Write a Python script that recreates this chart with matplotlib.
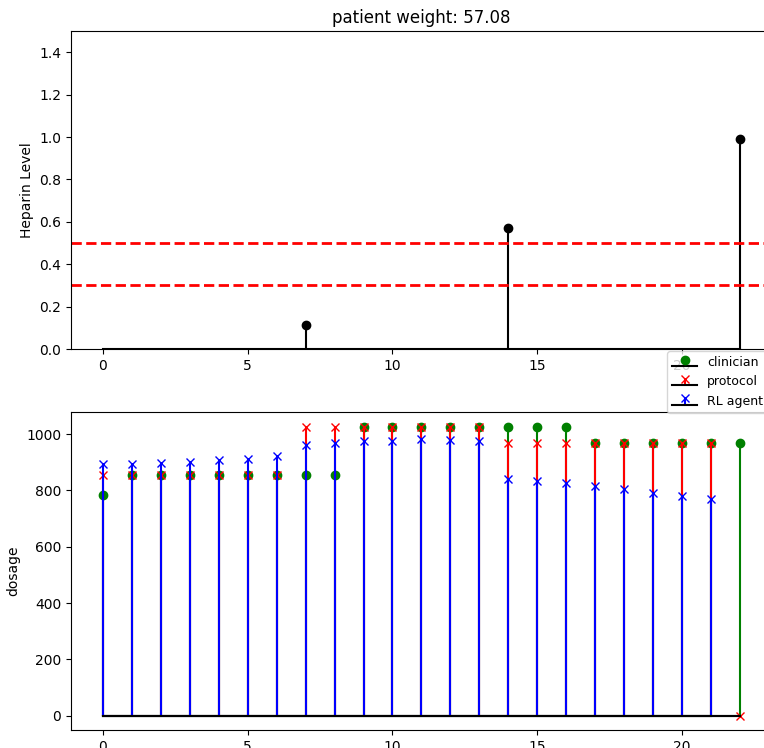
"""Heparin level and dosage per step for one patient"""
import numpy as np
import matplotlib
matplotlib.use("Agg")
import matplotlib.pyplot as plt

patient_weight = 57.08
steps = list(range(23))
# measured heparin levels (0 where nothing was measured)
heparin_level = [0, 0, 0, 0, 0, 0, 0, 0.114, 0, 0, 0, 0, 0, 0, 0.573,
                 0, 0, 0, 0, 0, 0, 0, 0.993]
target_low = 0.3
target_high = 0.5

clinician = [783, 856, 856, 856, 856, 856, 856, 856, 856, 1027, 1027, 1027,
             1027, 1027, 1027, 1027, 1027, 970, 970, 970, 970, 970, 970]
protocol = [856, 856, 856, 856, 856, 856, 856, 1027, 1027, 1027, 1027, 1027,
            1027, 1027, 968, 968, 968, 970, 970, 970, 970, 970, 0]
rl_agent = [893, 894, 897, 902, 907, 913, 923, 963, 969, 975, 977, 981,
            979, 975, 842, 833, 825, 814, 804, 791, 779, 769]


def plot():
    """Draw both panels"""
    fig = plt.figure(figsize=(7.64, 7.48), dpi=100)
    ax1 = fig.add_axes([0.0929, 0.5334, 0.9175, 0.4251])
    ax2 = fig.add_axes([0.0929, 0.024, 0.9175, 0.4251])

    measured = [i for i, v in enumerate(heparin_level) if v > 0]
    markers, stems, base = ax1.stem(steps, heparin_level, linefmt='k-',
                                    markerfmt='ko', basefmt='k-')
    markers.set_markevery(measured)
    ax1.axhline(target_low, color='r', linestyle='--', linewidth=2)
    ax1.axhline(target_high, color='r', linestyle='--', linewidth=2)
    ax1.set_ylim(0, 1.5)
    ax1.set_xlim(-1.1, 23.1)
    ax1.set_ylabel("Heparin Level")
    ax1.set_title("patient weight: %.2f" % patient_weight)

    ax2.stem(steps, clinician, linefmt='g-', markerfmt='go', basefmt='k-',
             label='clinician')
    ax2.stem(steps, protocol, linefmt='r-', markerfmt='rx', basefmt='k-',
             label='protocol')
    ax2.stem(steps[:len(rl_agent)], rl_agent, linefmt='b-', markerfmt='bx',
             basefmt='k-', label='RL agent')
    ax2.set_xlim(-1.1, 23.1)
    ax2.set_ylabel("dosage")

    handles, labels = ax2.get_legend_handles_labels()
    leg = fig.legend(handles, labels, loc='upper left', borderaxespad=0,
                     fontsize=9, bbox_to_anchor=(667 / 764, 1 - 351 / 748))
    leg.set_zorder(5)
    plt.savefig("out.png", dpi=100)


if __name__ == "__main__":
    plot()
